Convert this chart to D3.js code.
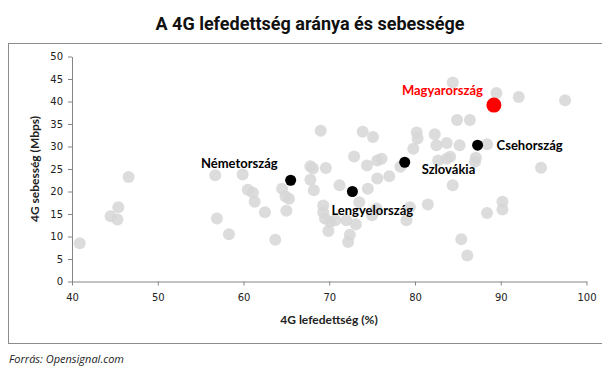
<!DOCTYPE html>
<html>
<head>
<meta charset="utf-8">
<script src="https://cdn.jsdelivr.net/npm/d3@7"></script>
<style>
  body { margin: 0; background: #fff; }
  svg { display: block; }
</style>
</head>
<body>
<div id="chart"></div>
<script>
// other countries (grey points): coverage %, speed Mbps
var coverage = [40.9, 44.5, 45.3, 45.4, 46.6, 56.7, 56.9, 58.3, 59.9, 60.5,
  61.1, 61.3, 62.5, 63.7, 64.5, 64.9, 65.3, 65.0, 67.8, 68.1,
  67.8, 68.2, 69.0, 69.6, 69.3, 69.3, 69.5, 70.1, 70.7, 69.9,
  71.2, 72.0, 72.4, 72.2, 72.9, 73.1, 73.5, 73.9, 74.4, 74.5,
  75.1, 75.0, 75.5, 75.6, 76.1, 75.6, 77.0, 78.3, 79.0, 79.4,
  79.8, 80.2, 80.3, 81.5, 82.3, 82.5, 82.7, 83.7, 83.7, 84.1,
  84.4, 84.4, 84.9, 85.2, 85.4, 86.1, 86.4, 87.0, 87.1, 88.4,
  88.4, 89.5, 90.2, 90.2, 92.1, 94.7, 97.5];
var speed = [8.5, 14.5, 13.8, 16.5, 23.2, 23.6, 14.0, 10.5, 23.8, 20.4,
  19.7, 17.7, 15.4, 9.3, 20.6, 18.9, 18.4, 15.7, 25.6, 25.1,
  22.6, 20.3, 33.5, 25.2, 16.9, 15.4, 14.0, 13.2, 13.6, 11.2,
  21.4, 13.6, 10.4, 8.8, 27.8, 12.7, 17.6, 33.3, 25.8, 20.6,
  32.1, 14.7, 16.2, 26.9, 27.3, 22.9, 23.4, 25.5, 13.6, 16.5,
  29.5, 33.1, 31.8, 17.1, 32.7, 30.3, 26.9, 30.8, 27.3, 27.7,
  44.2, 21.4, 35.9, 30.3, 9.4, 5.8, 35.9, 26.6, 27.5, 30.5,
  15.2, 41.9, 17.7, 16.0, 41.0, 25.3, 40.3];

// highlighted countries
var hlNames = ["Magyarország", "Csehország", "Szlovákia", "Lengyelország", "Németország"];
var hlCoverage = [89.2, 87.3, 78.8, 72.7, 65.5];
var hlSpeed = [39.2, 30.3, 26.5, 20.0, 22.5];

var xTicks = [40, 50, 60, 70, 80, 90, 100];
var yTicks = [0, 5, 10, 15, 20, 25, 30, 35, 40, 45, 50];

var width = 602, height = 370;
var svg = d3.select("#chart").append("svg")
    .attr("width", width)
    .attr("height", height);

// outer frame
svg.append("rect")
    .attr("x", 8.5).attr("y", 43.5)
    .attr("width", 594).attr("height", 300)
    .attr("fill", "none")
    .attr("stroke", "#8c8c8c");

svg.append("text")
    .attr("x", 310).attr("y", 30)
    .attr("text-anchor", "middle")
    .style("font-family", "Roboto")
    .style("font-weight", "bold")
    .style("font-size", "18px")
    .attr("fill", "#111")
    .text("A 4G lefedettség aránya és sebessége");

var x = d3.scaleLinear().domain([40, 100]).range([72, 586.5]);
var y = d3.scaleLinear().domain([0, 50]).range([281.5, 56.5]);

var xAxis = svg.append("g")
    .attr("transform", "translate(0," + y(0) + ")")
    .call(d3.axisBottom(x).tickValues(xTicks).tickSize(4).tickPadding(8).tickSizeOuter(0));
var yAxis = svg.append("g")
    .attr("transform", "translate(" + x(40) + ",0)")
    .call(d3.axisLeft(y).tickValues(yTicks).tickSize(4).tickPadding(5).tickSizeOuter(0));

[xAxis, yAxis].forEach(function(g) {
  g.select(".domain").attr("stroke", "#868686");
  g.selectAll(".tick line").attr("stroke", "#868686");
  g.selectAll(".tick text")
      .attr("fill", "#222")
      .style("font-family", "DejaVu Sans")
      .style("font-size", "10px");
});

svg.append("text")
    .attr("x", 329).attr("y", 324)
    .attr("text-anchor", "middle")
    .style("font-family", "Lato")
    .style("font-weight", "bold")
    .style("font-size", "12px")
    .attr("fill", "#222")
    .text("4G lefedettség (%)");

svg.append("text")
    .attr("transform", "translate(39,169) rotate(-90)")
    .attr("text-anchor", "middle")
    .style("font-family", "Lato")
    .style("font-weight", "bold")
    .style("font-size", "12px")
    .attr("fill", "#222")
    .text("4G sebesség (Mbps)");

// grey points
svg.append("g").selectAll("circle")
    .data(d3.range(coverage.length))
    .enter().append("circle")
    .attr("cx", function(i) { return x(coverage[i]); })
    .attr("cy", function(i) { return y(speed[i]); })
    .attr("r", 6)
    .attr("fill", "#d6d6d6")
    .attr("fill-opacity", 0.85);

// highlighted points
svg.append("g").selectAll("circle")
    .data(d3.range(hlNames.length))
    .enter().append("circle")
    .attr("cx", function(i) { return x(hlCoverage[i]); })
    .attr("cy", function(i) { return y(hlSpeed[i]); })
    .attr("r", function(i) { return i === 0 ? 7.5 : 5.5; })
    .attr("fill", function(i) { return i === 0 ? "#ff0000" : "#000"; });

// label offsets relative to the point: dx, dy, anchor
var labelPos = [[-11, -10, "end"], [19, 5, "start"], [17, 12, "start"], [-21, 23, "start"], [-13, -12, "end"]];

svg.append("g").selectAll("text")
    .data(d3.range(hlNames.length))
    .enter().append("text")
    .attr("x", function(i) { return x(hlCoverage[i]) + labelPos[i][0]; })
    .attr("y", function(i) { return y(hlSpeed[i]) + labelPos[i][1]; })
    .attr("text-anchor", function(i) { return labelPos[i][2]; })
    .style("font-family", "Lato")
    .style("font-weight", "bold")
    .style("font-size", "13px")
    .attr("fill", function(i) { return i === 0 ? "#ff0000" : "#000"; })
    .text(function(i) { return hlNames[i]; });

svg.append("text")
    .attr("x", 9).attr("y", 363)
    .style("font-family", "Open Sans")
    .style("font-style", "italic")
    .style("font-size", "11px")
    .attr("fill", "#222")
    .text("Forrás: Opensignal.com");
</script>
</body>
</html>
